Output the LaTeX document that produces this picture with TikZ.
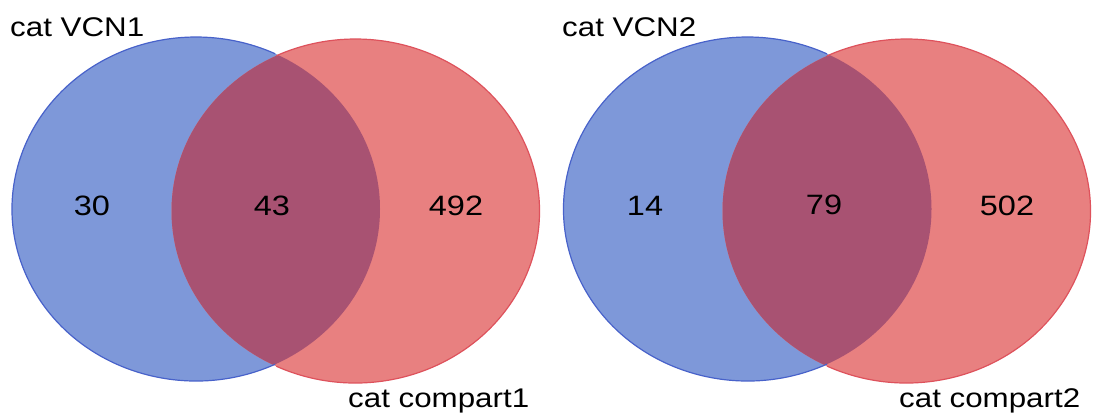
\documentclass[tikz,border=0pt]{standalone}
\usepackage{fontspec}
\setmainfont{Liberation Sans}
\definecolor{bluefill}{RGB}{126,152,217}
\definecolor{redfill}{RGB}{232,128,128}
\definecolor{ovlfill}{RGB}{168,82,114}
\definecolor{blueline}{RGB}{72,98,202}
\definecolor{redline}{RGB}{222,82,92}
\tikzset{
  numlabel/.style={font=\fontsize{28}{32}\selectfont, inner sep=0pt, text=black},
  catlabel/.style={font=\fontsize{27}{31}\selectfont, inner sep=0pt, anchor=base west, text=black},
  blueedge/.style={draw=blueline, line width=1.2pt},
  rededge/.style={draw=redline, line width=1.2pt}
}
\newcommand\widetext[1]{\scalebox{1.16}[1]{#1}}
% #1 blue centre x, #2 red centre x, #3 intersection angle
\newcommand\drawvennpair[3]{%
  \fill[bluefill] (#1,209) ellipse [x radius=184, y radius=172];
  \fill[redfill] (#2,211) ellipse [x radius=184, y radius=172];
  \begin{scope}
    \clip (#1,209) ellipse [x radius=184, y radius=172];
    \fill[ovlfill] (#2,211) ellipse [x radius=184, y radius=172];
  \end{scope}
  \draw[blueedge] ([shift={(#1,209)}]#3:184 and 172) arc [start angle=#3, end angle=360-#3, x radius=184, y radius=172];
  \draw[rededge] ([shift={(#2,211)}]180-#3:184 and 172) arc [start angle=180-#3, end angle=-180+#3, x radius=184, y radius=172];
}
\begin{document}
\begin{tikzpicture}[x=1pt,y=-1pt]
\useasboundingbox (0,0) rectangle (1095,414);
\fill[white] (0,0) rectangle (1095,414);
\drawvennpair{196}{355.5}{64.5}
\drawvennpair{747.5}{906.5}{64.4}
\node[catlabel] (lab1) at (10,37) {\widetext{cat VCN1}};
\node[catlabel] (lab2) at (348,407) {\widetext{cat compart1}};
\node[catlabel] (lab3) at (562,37) {\widetext{cat VCN2}};
\node[catlabel] (lab4) at (899,407) {\widetext{cat compart2}};
\node[numlabel] (n1) at (92,206) {\widetext{30}};
\node[numlabel] (n2) at (272,206) {\widetext{43}};
\node[numlabel] (n3) at (456,206) {\widetext{492}};
\node[numlabel] (n4) at (645,206) {\widetext{14}};
\node[numlabel] (n5) at (824,205) {\widetext{79}};
\node[numlabel] (n6) at (1007,206) {\widetext{502}};
\end{tikzpicture}
\end{document}
